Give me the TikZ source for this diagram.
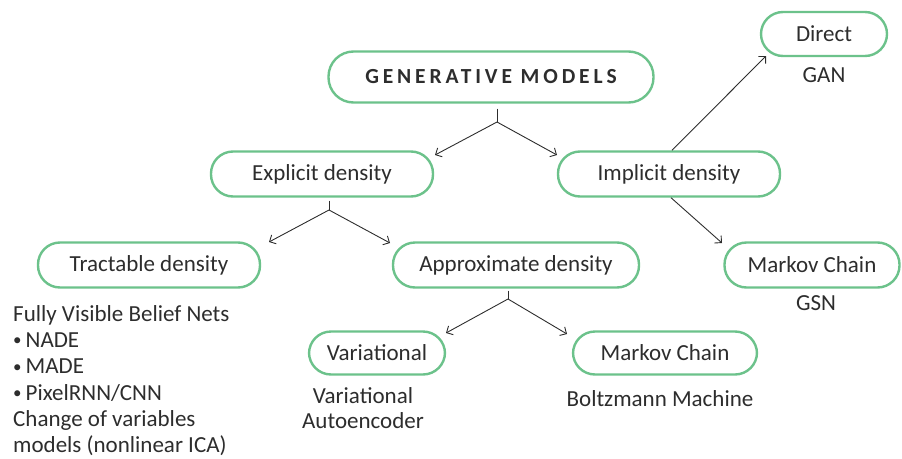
\documentclass[tikz,border=0pt]{standalone}
\usepackage{fontspec}
\setmainfont{Carlito}
\usetikzlibrary{arrows.meta,positioning}
\definecolor{boxgreen}{RGB}{108,194,139}
\definecolor{inkgray}{RGB}{45,45,45}
\newcommand{\listdot}{\raisebox{1.5pt}{\fontsize{17}{17}\selectfont\textbullet}\hspace{4pt}}
\tikzset{
  modelbox/.style={draw=boxgreen, line width=2.4pt, rounded corners=22pt,
    minimum height=45pt, inner sep=0pt, text=inkgray,
    font=\fontsize{23}{27}\selectfont},
  branch/.style={draw=inkgray, line width=0.9pt},
  branchtip/.style={branch, -{Straight Barb[length=5pt,width=10pt]}},
  caption/.style={inner sep=0pt, text=inkgray, align=center,
    font=\fontsize{23}{25}\selectfont},
}

\begin{document}
\begin{tikzpicture}[x=1pt,y=-1pt]
\useasboundingbox (0,0) rectangle (902,458);

% boxes
\node[modelbox, minimum width=325pt, minimum height=51pt, rounded corners=25pt,
  font=\fontsize{21.5}{24}\selectfont\bfseries\addfontfeature{LetterSpace=18}] (gen) at (491,77) {GENERATIVE MODELS};
\node[modelbox, minimum width=222pt] (expl) at (322,174) {Explicit density};
\node[modelbox, minimum width=222pt] (impl) at (669,174) {Implicit density};
\node[modelbox, minimum width=126pt, minimum height=44pt] (direct) at (824,34) {Direct};
\node[modelbox, minimum width=222pt] (tract) at (149,265) {Tractable density};
\node[modelbox, minimum width=246pt] (approx) at (516,265) {Approximate density};
\node[modelbox, minimum width=175pt] (mcgsn) at (812,265) {Markov Chain};
\node[modelbox, minimum width=136pt, minimum height=43pt] (var) at (377,353) {Variational};
\node[modelbox, minimum width=184pt, minimum height=43pt] (mcbm) at (665,353) {Markov Chain};

% examples under the boxes
\node[caption] (gan) at (824,75) {GAN};
\node[caption] (gsn) at (816,303) {GSN};
\node[caption] (vae) at (363,408) {Variational\\Autoencoder};
\node[caption] (boltz) at (660,399) {Boltzmann Machine};
\node[caption, align=left, anchor=north west, font=\fontsize{23}{26.3}\selectfont] (fvbn) at (13,305) {Fully Visible Belief Nets\\
\listdot NADE\\
\listdot MADE\\
\listdot PixelRNN/CNN\\
Change of variables\\
models (nonlinear ICA)};

% forks
\coordinate (genfork) at (497,122);
\coordinate (genl) at (435,155);
\coordinate (genr) at (557,155);
\coordinate (explfork) at (329,210);
\coordinate (expll) at (269,242);
\coordinate (explr) at (390,243);
\coordinate (approxfork) at (508,299);
\coordinate (approxl) at (446,333);
\coordinate (approxr) at (567,334);
\coordinate (directtip) at (766,56);
\coordinate (gsntip) at (722,243);

\draw[branch, shorten <=5pt] (gen.south -| genfork) -- (genfork);
\draw[branchtip] (genfork) -- (genl);
\draw[branchtip] (genfork) -- (genr);

\draw[branch, shorten <=3pt] (expl.south -| explfork) -- (explfork);
\draw[branchtip] (explfork) -- (expll);
\draw[branchtip] (explfork) -- (explr);

\draw[branch, shorten <=2pt] (approx.south -| approxfork) -- (approxfork);
\draw[branchtip] (approxfork) -- (approxl);
\draw[branchtip] (approxfork) -- (approxr);

\draw[branchtip] ([xshift=3pt]impl.north) -- (directtip);
\draw[branchtip] ([xshift=2pt]impl.south) -- (gsntip);
\end{tikzpicture}
\end{document}
